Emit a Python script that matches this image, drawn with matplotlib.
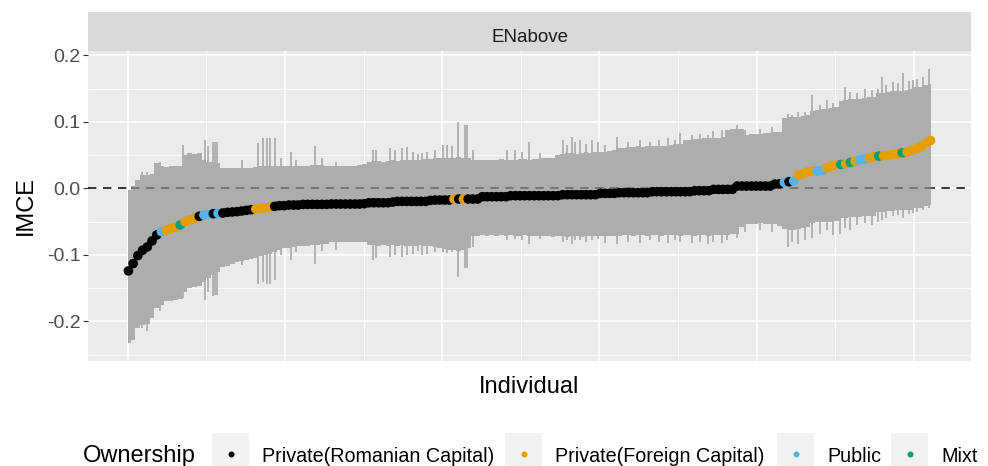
import numpy as np
import matplotlib
matplotlib.use("Agg")
import matplotlib.pyplot as plt
from matplotlib.patches import Rectangle
from matplotlib.lines import Line2D

plt.rcParams["font.family"] = ["Liberation Sans", "DejaVu Sans"]

# Individual IMCE estimates (sorted), every 6th individual
est = [-0.124, -0.113, -0.101, -0.093, -0.088, -0.079, -0.070, -0.065, -0.063, -0.060,
       -0.058, -0.055, -0.050, -0.047, -0.045, -0.042, -0.040, -0.039, -0.038, -0.0375,
       -0.037, -0.036, -0.0355, -0.035, -0.034, -0.033, -0.032, -0.031, -0.030, -0.029,
       -0.028, -0.027, -0.026, -0.026, -0.025, -0.025, -0.025, -0.024, -0.024, -0.024,
       -0.024, -0.024, -0.024, -0.0235, -0.0235, -0.0235, -0.0235, -0.0235, -0.0235, -0.0235,
       -0.023, -0.0216, -0.0216, -0.0216, -0.0216, -0.0216, -0.0205, -0.0195, -0.0195, -0.0195,
       -0.0195, -0.0195, -0.0195, -0.0195, -0.018, -0.0175, -0.0175, -0.0175, -0.0175, -0.016,
       -0.016, -0.016, -0.016, -0.016, -0.016, -0.0125, -0.0125, -0.0125, -0.0125, -0.0125,
       -0.0125, -0.011, -0.011, -0.011, -0.011, -0.011, -0.011, -0.011, -0.011, -0.011,
       -0.011, -0.011, -0.0095, -0.0095, -0.0095, -0.0095, -0.0095, -0.0095, -0.0095, -0.0095,
       -0.0075, -0.0075, -0.0075, -0.0075, -0.0065, -0.0065, -0.0065, -0.0065, -0.0065, -0.0065,
       -0.0065, -0.005, -0.005, -0.005, -0.005, -0.005, -0.005, -0.005, -0.005, -0.005,
       -0.0035, -0.0035, -0.0035, -0.0035, -0.0015, -0.0015, -0.0015, -0.0015, -0.0015, 0.0035,
       0.0035, 0.0035, 0.0035, 0.0035, 0.0035, 0.0035, 0.0035, 0.0065, 0.0068, 0.009,
       0.010, 0.011, 0.020, 0.022, 0.025, 0.026, 0.026, 0.027, 0.031, 0.034,
       0.035, 0.036, 0.037, 0.039, 0.041, 0.043, 0.044, 0.046, 0.0475, 0.0485,
       0.049, 0.050, 0.051, 0.052, 0.0535, 0.055, 0.057, 0.060, 0.063, 0.068,
       0.072]

# usual lower / upper interval bounds at the same individuals
lower = [-0.233, -0.228, -0.210, -0.206, -0.204, -0.195, -0.180, -0.176, -0.170, -0.169,
         -0.168, -0.166, -0.155, -0.150, -0.148, -0.146, -0.140, -0.135, -0.130, -0.125,
         -0.118, -0.116, -0.113, -0.111, -0.109, -0.107, -0.106, -0.104, -0.102, -0.100,
         -0.098, -0.096,
         -0.092, -0.090, -0.089, -0.088, -0.087, -0.086, -0.086, -0.085, -0.085, -0.084, -0.083,
         -0.081, -0.080, -0.080, -0.080, -0.080, -0.081, -0.080, -0.080,
         -0.085, -0.085, -0.086, -0.085, -0.086, -0.085, -0.086, -0.085, -0.086, -0.087,
         -0.086, -0.085, -0.087, -0.087, -0.088, -0.090, -0.091, -0.092, -0.093,
         -0.094, -0.092, -0.090,
         -0.072, -0.071, -0.070, -0.071, -0.070, -0.071, -0.070, -0.071, -0.070, -0.071,
         -0.071, -0.070, -0.071, -0.071, -0.072, -0.072, -0.072, -0.073, -0.072,
         -0.072, -0.073, -0.072, -0.072, -0.073, -0.072, -0.072, -0.071, -0.072, -0.072,
         -0.071, -0.071,
         -0.071, -0.070, -0.070, -0.071, -0.070, -0.070, -0.071, -0.070, -0.070, -0.071,
         -0.070, -0.070, -0.070, -0.071,
         -0.070, -0.070, -0.071, -0.070, -0.070, -0.071, -0.070, -0.070, -0.070,
         -0.070, -0.069, -0.068, -0.058,
         -0.054, -0.053, -0.053, -0.052, -0.053, -0.053, -0.054, -0.056,
         -0.061, -0.062, -0.062, -0.061, -0.060, -0.058,
         -0.052, -0.051, -0.050, -0.050, -0.050, -0.049,
         -0.045, -0.044, -0.043, -0.043, -0.043, -0.042, -0.042, -0.041,
         -0.036, -0.035, -0.034, -0.034, -0.033, -0.033, -0.032, -0.032,
         -0.030, -0.029, -0.027, -0.025]

upper = [-0.003, 0.003, 0.012, 0.020, 0.020, 0.022, 0.038, 0.033, 0.032, 0.033,
         0.033, 0.034, 0.050, 0.053, 0.052, 0.053, 0.042, 0.040, 0.040, 0.038,
         0.031, 0.030, 0.030, 0.031, 0.031, 0.030, 0.031, 0.032, 0.033, 0.033,
         0.034, 0.034,
         0.033, 0.033, 0.034, 0.033, 0.034, 0.034, 0.034, 0.035, 0.035, 0.035, 0.034,
         0.033, 0.033, 0.033, 0.033, 0.034, 0.034, 0.035, 0.036,
         0.040, 0.041, 0.041, 0.040, 0.041, 0.042, 0.041, 0.042, 0.043, 0.042,
         0.043, 0.043, 0.044, 0.044, 0.045, 0.045, 0.046, 0.046, 0.046,
         0.047, 0.046, 0.046,
         0.043, 0.043, 0.043, 0.042, 0.043, 0.043, 0.044, 0.042, 0.043, 0.043,
         0.044, 0.044, 0.043, 0.044, 0.044, 0.045, 0.045, 0.046, 0.050,
         0.052, 0.053, 0.053, 0.052, 0.053, 0.054, 0.053, 0.054, 0.054, 0.055,
         0.056, 0.058,
         0.060, 0.061, 0.062, 0.062, 0.063, 0.062, 0.063, 0.064, 0.063, 0.064,
         0.064, 0.065, 0.066, 0.066,
         0.072, 0.073, 0.074, 0.074, 0.075, 0.075, 0.076, 0.076, 0.077,
         0.088, 0.090, 0.090, 0.089,
         0.080, 0.081, 0.082, 0.082, 0.083, 0.083, 0.084, 0.085,
         0.106, 0.107, 0.108, 0.108, 0.109, 0.110,
         0.117, 0.118, 0.119, 0.120, 0.121, 0.122,
         0.132, 0.133, 0.134, 0.135, 0.135, 0.136, 0.137, 0.138,
         0.143, 0.144, 0.145, 0.146, 0.147, 0.147, 0.148, 0.149,
         0.152, 0.153, 0.155, 0.157]

# individuals whose interval sticks out of the band (index, lower, upper)
spike_ind = [18, 25, 41, 70, 98, 102, 109, 111, 114, 145, 166, 172, 177, 181, 187,
             195, 208, 214, 238, 247, 265, 312, 316, 334, 340, 349, 355, 363, 369, 374,
             381, 391, 401, 406, 412, 420, 429, 432, 439, 482, 493, 502, 510, 524, 554,
             559, 565, 569, 575, 583, 590, 598, 607, 622, 636, 651, 664, 676, 687, 696,
             702, 717, 728, 738, 744, 756, 762, 775, 785, 804, 819, 840, 845, 852, 861,
             870, 880, 889, 897, 906, 912, 918, 927, 938, 946, 954, 959, 964, 973, 980,
             986, 993, 998, 1004, 1011, 1019]
spike_lo = [-0.210, -0.215, -0.185, -0.165, -0.168, -0.155, -0.162, -0.160, -0.160, -0.115,
            -0.143, -0.140, -0.143, -0.143, -0.138, -0.100, -0.108, -0.095, -0.113, -0.094,
            -0.092, -0.108, -0.105, -0.103, -0.100, -0.103, -0.100, -0.098, -0.094, -0.100,
            -0.098, -0.095, -0.095, -0.097, -0.095, -0.133, -0.120, -0.120, -0.088, -0.078,
            -0.076, -0.078, -0.083, -0.076, -0.080, -0.078, -0.083, -0.077, -0.078, -0.080,
            -0.078, -0.076, -0.082, -0.083, -0.080, -0.082, -0.078, -0.080, -0.082, -0.078,
            -0.080, -0.082, -0.080, -0.083, -0.080, -0.082, -0.077, -0.075, -0.065, -0.062,
            -0.065, -0.088, -0.080, -0.083, -0.078, -0.075, -0.068, -0.062, -0.070, -0.068,
            -0.060, -0.062, -0.055, -0.052, -0.055, -0.050, -0.048, -0.045, -0.042, -0.040,
            -0.045, -0.038, -0.037, -0.035, -0.033, -0.030]
spike_hi = [0.025, 0.024, 0.040, 0.065, 0.073, 0.063, 0.070, 0.070, 0.070, 0.043,
            0.068, 0.076, 0.076, 0.075, 0.076, 0.045, 0.055, 0.042, 0.063, 0.045,
            0.040, 0.058, 0.057, 0.060, 0.058, 0.060, 0.062, 0.055, 0.052, 0.053,
            0.055, 0.058, 0.065, 0.065, 0.063, 0.100, 0.095, 0.095, 0.058, 0.058,
            0.058, 0.055, 0.070, 0.053, 0.073, 0.065, 0.077, 0.070, 0.072, 0.066,
            0.072, 0.070, 0.065, 0.077, 0.070, 0.072, 0.070, 0.073, 0.075, 0.073,
            0.083, 0.080, 0.082, 0.080, 0.086, 0.088, 0.087, 0.095, 0.088, 0.090,
            0.093, 0.112, 0.110, 0.115, 0.115, 0.140, 0.125, 0.133, 0.128, 0.128,
            0.153, 0.145, 0.143, 0.150, 0.148, 0.150, 0.168, 0.155, 0.160, 0.158,
            0.173, 0.162, 0.163, 0.165, 0.168, 0.180]

# ownership in order of individuals, as (code, run length)
own_runs = [("R", 7), ("P", 1), ("F", 3), ("M", 1), ("F", 3), ("R", 1), ("P", 2),
            ("R", 1), ("P", 1), ("R", 7), ("F", 4), ("R", 38), ("F", 1), ("R", 1),
            ("F", 1), ("R", 67), ("P", 1), ("R", 1), ("P", 1), ("F", 4), ("P", 2),
            ("F", 3), ("M", 1), ("F", 1), ("M", 1), ("F", 1), ("P", 2), ("F", 2),
            ("M", 1), ("F", 4), ("M", 1), ("F", 6)]
own = [c for c, n in own_runs for _ in range(n)]

categories = ["R", "F", "P", "M"]
cat_labels = ["Private(Romanian Capital)", "Private(Foreign Capital)", "Public", "Mixt"]
cat_colors = {"R": "#000000", "F": "#E69F00", "P": "#56B4E9", "M": "#009E73"}

ytick_vals = [-0.2, -0.1, 0.0, 0.1, 0.2]
ytick_labels = ["-0.2", "-0.1", "0.0", "0.1", "0.2"]

assert len(est) == len(lower) == len(upper) == len(own)
assert len(spike_ind) == len(spike_lo) == len(spike_hi)
x = np.arange(1, 6 * len(est), 6)

W, H = 988, 466
fig = plt.figure(figsize=(W / 100, H / 100), dpi=100)

def fx(px):
    return px / W

def fy(py):
    return 1 - py / H

pl, pr, pt, pb = 88.3, 970.7, 51.0, 360.7
ax = fig.add_axes([fx(pl), fy(pb), (pr - pl) / W, (pb - pt) / H])
ax.set_facecolor("#EBEBEB")
for s in ax.spines.values():
    s.set_visible(False)

ax.set_xlim(-50, 1072)
ax.set_ylim(-0.259, 0.2065)
ax.set_xticks([0, 200, 400, 600, 800, 1000])
ax.set_xticks([100, 300, 500, 700, 900], minor=True)
ax.set_yticks(ytick_vals)
ax.set_yticklabels(ytick_labels)
ax.set_yticks([-0.25, -0.15, -0.05, 0.05, 0.15], minor=True)
ax.grid(which="major", color="white", lw=1.1)
ax.grid(which="minor", color="white", lw=0.55)
ax.set_axisbelow(True)
ax.tick_params(axis="x", which="both", length=0, labelbottom=False)
ax.tick_params(axis="y", which="major", length=3.5, width=0.8, color="#333333",
               labelsize=14, labelcolor="#4D4D4D", pad=2)
ax.tick_params(axis="y", which="minor", length=0)

band_col = "#ADADAD"
dash = (0, (5.5, 4.3))
ax.axhline(0, color="black", lw=1.1, ls=dash, zorder=1.5)
ax.fill_between(x, lower, upper, step="mid", color=band_col, lw=0, zorder=2)
ax.vlines(spike_ind, spike_lo, spike_hi, color=band_col, lw=1.3, zorder=2)
# the reference line shows through the grey intervals
ax.plot([x[1] - 3, x[-1] + 3], [0, 0], color="#666666", lw=1.1, ls=dash, zorder=2.5)
ax.scatter(x, est, c=[cat_colors[o] for o in own], s=48, lw=0, zorder=3)

ax.set_ylabel("IMCE", fontsize=17)
ax.yaxis.set_label_coords((37 - pl) / (pr - pl), 0.5)
ax.set_xlabel("Individual", fontsize=17)
ax.xaxis.set_label_coords(0.5, -(376 - pb) / (pb - pt))

# facet strip
sax = fig.add_axes([fx(pl), fy(pt), (pr - pl) / W, (pt - 12.3) / H])
sax.set_facecolor("#D9D9D9")
sax.set_xticks([])
sax.set_yticks([])
for s in sax.spines.values():
    s.set_visible(False)
sax.text(0.5, (pt - 42) / (pt - 12.3), "ENabove", ha="center", va="baseline",
         fontsize=13.5, color="#1A1A1A", transform=sax.transAxes)

# legend at the bottom
fig.text(fx(83.3), fy(461.7), "Ownership", fontsize=17, va="baseline", ha="left")
key_x = [212, 505, 777, 891]
for kx, cat, lab in zip(key_x, categories, cat_labels):
    fig.add_artist(Rectangle((fx(kx), 0), 37 / W, (H - 433) / H, transform=fig.transFigure,
                             facecolor="#F2F2F2", edgecolor="none"))
    fig.add_artist(Line2D([fx(kx + 18.5)], [fy(453.5)], marker="o", ms=4.3, mew=0,
                          color=cat_colors[cat], transform=fig.transFigure))
    fig.text(fx(kx + 50), fy(461.7), lab, fontsize=14.2, va="baseline", ha="left")

fig.savefig("out.png", dpi=100)
